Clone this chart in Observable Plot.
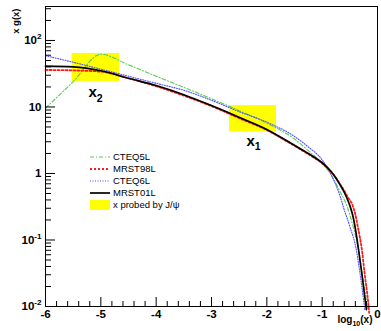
<!DOCTYPE html>
<html>
<head>
<meta charset="utf-8">
<script src="https://cdn.jsdelivr.net/npm/d3@7"></script>
<script src="https://cdn.jsdelivr.net/npm/@observablehq/plot@0.6"></script>
<style>
  html, body { margin: 0; padding: 0; background: #fff; }
  svg { display: block; }
</style>
</head>
<body>
<script>
// ---- data ----
const cteq5lX = [-6, -5.5, -5, -4.5, -4, -3.5, -3, -2.5, -2, -1.5, -1.25, -1, -0.85, -0.67, -0.55, -0.45, -0.34, -0.26, -0.2, -0.18];
const cteq5lY = [9.6, 24, 62, 43, 29, 19.7, 13.3, 8.8, 5.7, 3.3, 2.2, 1.42, 0.99, 0.52, 0.32, 0.17, 0.069, 0.025, 0.0123, 0.009];

const mrst98lX = [-6, -5.5, -5, -4.5, -4, -3.5, -3, -2.5, -2, -1.5, -1.25, -1, -0.85, -0.75, -0.67, -0.6, -0.55, -0.45, -0.4, -0.36, -0.28, -0.23, -0.17, -0.15];
const mrst98lY = [36, 35.5, 34, 27, 20.5, 14.8, 10.3, 6.8, 4.5, 2.6, 1.95, 1.42, 1.08, 0.86, 0.68, 0.55, 0.46, 0.33, 0.24, 0.165, 0.069, 0.03, 0.012, 0.008];

const cteq6lX = [-6, -5.5, -5, -4.5, -4, -3.5, -3, -2.5, -2, -1.5, -1.25, -1, -0.85, -0.67, -0.61, -0.5, -0.38, -0.3, -0.25, -0.23];
const cteq6lY = [59, 47, 37, 29, 22.7, 17.8, 12.6, 8.5, 5.9, 3.6, 2.5, 1.6, 1.0, 0.44, 0.3, 0.16, 0.069, 0.025, 0.0123, 0.009];

const mrst01lX = [-6, -5.5, -5, -4.5, -4, -3.5, -3, -2.5, -2, -1.5, -1.25, -1, -0.85, -0.75, -0.67, -0.6, -0.55, -0.5, -0.45, -0.41, -0.34, -0.28, -0.22, -0.2];
const mrst01lY = [41, 40, 35, 27, 21, 15.3, 10.5, 7.0, 4.6, 2.65, 2.0, 1.45, 1.1, 0.85, 0.66, 0.52, 0.42, 0.33, 0.24, 0.165, 0.069, 0.03, 0.012, 0.009];

// x regions probed by J/psi (log10 x ranges and x g(x) ranges)
const boxNames = ["x_{2}", "x_{1}"];
const boxX1 = [-5.52, -2.675];
const boxX2 = [-4.66, -1.825];
const boxY1 = [24.2, 4.18];
const boxY2 = [63.8, 10.5];
const boxLabelX = [-5.223, -2.367];
const boxLabelY = [16.5, 3.1];

// axis ticks
const xTicks = [-6, -5, -4, -3, -2, -1, 0];
const xTickLabels = ["-6", "-5", "-4", "-3", "-2", "-1", "0"];
const yTicks = [0.01, 0.1, 1, 10, 100];
const yTickLabels = ["10^{-2}", "10^{-1}", "1", "10", "10^{2}"];

const seriesNames = ["CTEQ5L", "MRST98L", "CTEQ6L", "MRST01L"];
const bandName = "x probed by J/\u03c8";

// ---- derived tables ----
const toRows = (xs, ys) => xs.map((x, i) => ({x, y: ys[i]}));
const boxes = boxNames.map((n, i) => ({name: n, x1: boxX1[i], x2: boxX2[i], y1: boxY1[i], y2: boxY2[i], lx: boxLabelX[i], ly: boxLabelY[i]}));
const xMinor = d3.range(-6, 0.001, 0.2).map(v => Math.round(v * 10) / 10).filter(v => !xTicks.includes(v));
const yMinor = [];
for (let e = -2; e <= 2; e++) for (let m = 2; m <= 9; m++) { const v = m * Math.pow(10, e); if (v < 324) yMinor.push(v); }

const W = 381, H = 331, mT = 6, mR = 4, mB = 25, mL = 45;
const iW = W - mL - mR, iH = H - mT - mB;
const font = "'Liberation Sans', Arial, Helvetica, sans-serif";

const styles = [
  {stroke: "#55cc55", strokeWidth: 1.1, strokeDasharray: "4,2,1,2"},
  {stroke: "#ff1a1a", strokeWidth: 1.8, strokeDasharray: "2,2"},
  {stroke: "#4d4dff", strokeWidth: 1.1, strokeDasharray: "1,1.5"},
  {stroke: "#000000", strokeWidth: 1.7}
];

const chart = Plot.plot({
  width: W, height: H,
  marginTop: mT, marginRight: mR, marginBottom: mB, marginLeft: mL,
  x: {domain: [-6, 0], axis: null},
  y: {type: "log", domain: [0.01, 324], axis: null},
  style: {fontFamily: font, background: "#fff", overflow: "visible"},
  marks: [
    Plot.rect(boxes, {x1: "x1", x2: "x2", y1: "y1", y2: "y2", fill: "#ffff00"}),
    Plot.line(toRows(cteq5lX, cteq5lY), {x: "x", y: "y", curve: "monotone-x", ...styles[0]}),
    Plot.line(toRows(mrst98lX, mrst98lY), {x: "x", y: "y", curve: "monotone-x", ...styles[1]}),
    Plot.line(toRows(cteq6lX, cteq6lY), {x: "x", y: "y", curve: "monotone-x", ...styles[2]}),
    Plot.line(toRows(mrst01lX, mrst01lY), {x: "x", y: "y", curve: "monotone-x", ...styles[3]}),
    Plot.text(boxes, {x: "lx", y: "ly", text: "name", textAnchor: "start", fontSize: 15, fontWeight: "bold", fill: "#000"}),
    // ticks (inside the frame, ROOT style)
    Plot.ruleX(xTicks, {x: d => d, insetTop: iH - 9, stroke: "#000"}),
    Plot.ruleX(xMinor, {x: d => d, insetTop: iH - 5, stroke: "#000"}),
    Plot.ruleY(yTicks, {y: d => d, insetRight: iW - 10, stroke: "#000"}),
    Plot.ruleY(yMinor, {y: d => d, insetRight: iW - 6, stroke: "#000"}),
    Plot.frame({stroke: "#000", strokeWidth: 1}),
    // tick labels
    Plot.text(xTicks, {x: d => d, frameAnchor: "bottom", dy: 11, text: (d, i) => xTickLabels[i], fontSize: 11.5, fontWeight: "bold", fill: "#000"}),
    Plot.text(yTicks, {y: d => d, frameAnchor: "left", dx: -4, textAnchor: "end", text: (d, i) => yTickLabels[i], fontSize: 11.5, fontWeight: "bold", fill: "#000"}),
    // axis titles
    Plot.text(["x g(x)"], {frameAnchor: "top-left", dx: -33, dy: 2, rotate: -90, textAnchor: "end", text: d => d, fontSize: 9.5, fontWeight: "bold", fill: "#000"}),
    Plot.text(["log_{10}(x)"], {frameAnchor: "bottom-right", dx: -5, dy: 16, textAnchor: "end", text: d => d, fontSize: 10, fontWeight: "bold", fill: "#000"})
  ]
});
document.body.appendChild(chart);

// ---- legend inside the frame ----
const svg = d3.select(chart);
const lg = svg.append("g").attr("font-family", font).attr("font-size", 9.5).attr("text-anchor", "start");
const rowY = [157, 169, 181, 193];
seriesNames.forEach((name, i) => {
  const s = styles[i];
  lg.append("line").attr("x1", 90).attr("x2", 110).attr("y1", rowY[i]).attr("y2", rowY[i])
    .attr("stroke", s.stroke).attr("stroke-width", s.strokeWidth)
    .attr("stroke-dasharray", s.strokeDasharray || null);
  lg.append("text").attr("x", 113).attr("y", rowY[i]).attr("dy", "0.35em").attr("fill", "#000").text(name);
});
lg.append("rect").attr("x", 90).attr("y", 200).attr("width", 20).attr("height", 10).attr("fill", "#ffff00");
lg.append("text").attr("x", 113).attr("y", 205).attr("dy", "0.35em").attr("fill", "#000").text(bandName);

// ---- superscripts / subscripts as real text ----
const NS = "http://www.w3.org/2000/svg";
chart.querySelectorAll("text").forEach(el => {
  const s = el.textContent;
  if (!/[\^_]\{/.test(s)) return;
  const fs = parseFloat(getComputedStyle(el).fontSize) || 10;
  while (el.firstChild) el.removeChild(el.firstChild);
  const re = /([\^_])\{([^}]*)\}/g;
  let last = 0, cur = 0, m;
  const add = (txt, off, size) => {
    const t = document.createElementNS(NS, "tspan");
    t.textContent = txt;
    const dy = off - cur;
    if (dy !== 0) t.setAttribute("dy", dy);
    if (size) t.setAttribute("font-size", size);
    cur = off;
    el.appendChild(t);
  };
  while ((m = re.exec(s))) {
    if (m.index > last) add(s.slice(last, m.index), 0);
    const sup = m[1] === "^";
    add(m[2], sup ? -0.42 * fs : 0.32 * fs, 0.7 * fs);
    last = re.lastIndex;
  }
  if (last < s.length) add(s.slice(last), 0);
});
</script>
</body>
</html>
